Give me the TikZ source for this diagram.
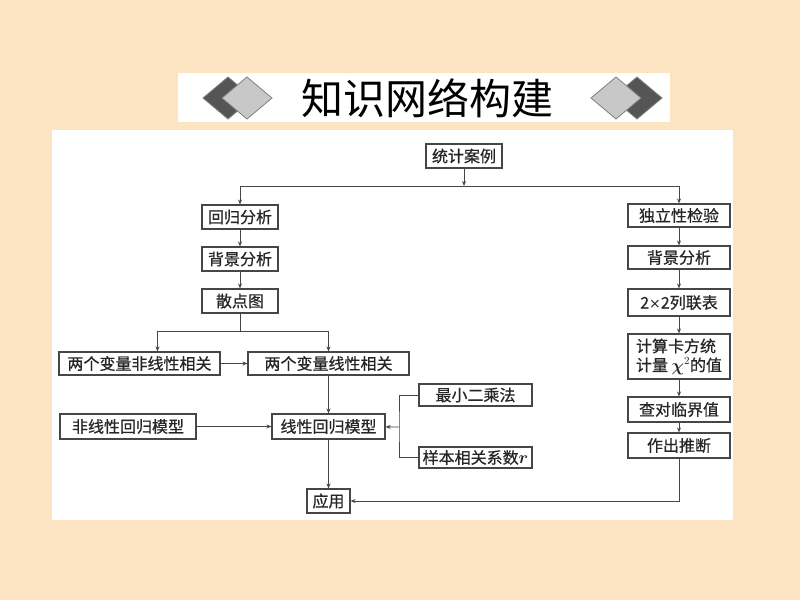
\documentclass[tikz,border=0pt]{standalone}
\usepackage{fontspec}
\usepackage{amsmath}
\newfontfamily\cjk{Noto Sans CJK SC}
\newfontfamily\cjkb{Noto Sans CJK SC}[FakeBold=0.6]
\usetikzlibrary{arrows.meta,positioning}
\definecolor{peach}{RGB}{252,228,194}
\definecolor{linegray}{RGB}{70,70,70}
\definecolor{darkdia}{RGB}{85,85,85}
\definecolor{lightdia}{RGB}{200,200,200}
\tikzset{
  box/.style={draw=linegray, line width=1.1pt, minimum height=24, inner xsep=3, inner ysep=2, font=\cjkb\fontsize{16}{19}\selectfont, text=black!85},
  arr/.style={draw=linegray, line width=0.9pt, -{Stealth[length=5pt,width=4pt]}},
  ln/.style={draw=linegray, line width=0.9pt},
  dia/.style={draw=gray, line width=0.8pt}
}
\begin{document}
\begin{tikzpicture}[x=1pt,y=-1pt]

\fill[peach] (0,0) rectangle (800,600);
\useasboundingbox (0,0) rectangle (800,600);

% title bar
\fill[white] (178,73) rectangle (670,122);
\draw[dia, fill=darkdia] (203,98) -- (228,77) -- (253,98) -- (228,119) -- cycle;
\draw[dia, fill=lightdia] (222,98) -- (247,77) -- (272,98) -- (247,119) -- cycle;
\draw[dia, fill=darkdia] (612,98) -- (637,77) -- (662,98) -- (637,119) -- cycle;
\draw[dia, fill=lightdia] (591,98) -- (616,77) -- (641,98) -- (616,119) -- cycle;
\node[font=\cjk\fontsize{42}{46}\selectfont] (title) at (427,98) {知识网络构建};

% panel
\fill[white] (52,130) rectangle (733,520);

\node[box, minimum width=76] (tjal) at (464,156) {统计案例};

\node[box, minimum width=76] (hgfx) at (240,217) {回归分析};
\node[box, minimum width=76] (bjfx) at (240,259) {背景分析};
\node[box, minimum width=76] (sdt) at (240,301) {散点图};

\node[box, minimum width=161, minimum height=23] (fxxxg) at (139.5,363.5) {两个变量非线性相关};
\node[box, minimum width=161, minimum height=23] (xxxg) at (328.5,363.5) {两个变量线性相关};

\node[box, minimum width=136, minimum height=25] (fxxmx) at (128,426.5) {非线性回归模型};
\node[box, minimum width=113, minimum height=25] (xxmx) at (328.5,426.5) {线性回归模型};

\node[box, minimum width=113, minimum height=22] (zxec) at (475.5,395) {最小二乘法};
\node[box, minimum width=113, minimum height=21] (ybxs) at (475.5,457.5) {样本相关系数$\boldsymbol{r}$};

\node[box, minimum width=43] (yy) at (328.5,501) {应用};

\node[box, minimum width=102, minimum height=23] (dlx) at (679,215.5) {独立性检验};
\node[box, minimum width=102, minimum height=23] (bjfx2) at (679,257.5) {背景分析};
\node[box, minimum width=102, minimum height=27] (lb) at (679,302.5) {2{\fontspec{DejaVu Sans}\fontsize{14}{16}\selectfont ×}2列联表};
\node[box, minimum width=102, minimum height=45, align=left] (kf) at (679,356.5) {计算卡方统\\计量 $\boldsymbol{\chi}^{2}$的值};
\node[box, minimum width=102, minimum height=25] (cdlj) at (679,409.5) {查对临界值};
\node[box, minimum width=102, minimum height=25] (zctd) at (679,445.5) {作出推断};

\coordinate (top) at (464,186);
\coordinate (fen) at (240,331);
\coordinate (kuo) at (399,427);

\draw[arr] (tjal) -- (top);
\draw[arr] (top) -| (hgfx);
\draw[arr] (top) -| (dlx);

\draw[arr] (hgfx) -- (bjfx);
\draw[arr] (bjfx) -- (sdt);
\draw[ln] (sdt) -- (fen);
\draw[arr] (fen) -| ([xshift=18]fxxxg.north);
\draw[arr] (fen) -| (xxxg);
\draw[arr] (fxxxg) -- (xxxg);
\draw[arr] (xxxg) -- (xxmx);
\draw[arr] (fxxmx) -- (xxmx);
\draw[ln] (zxec.west) -| (kuo) |- (ybxs.west);
\draw[arr] (kuo) -- (xxmx);
\draw[arr] (xxmx) -- (yy);

\draw[arr] (dlx) -- (bjfx2);
\draw[arr] (bjfx2) -- (lb);
\draw[arr] (lb) -- (kf);
\draw[arr] (kf) -- (cdlj);
\draw[arr] (cdlj) -- (zctd);
\draw[arr] (zctd.south) |- (yy.east);

\end{tikzpicture}
\end{document}
